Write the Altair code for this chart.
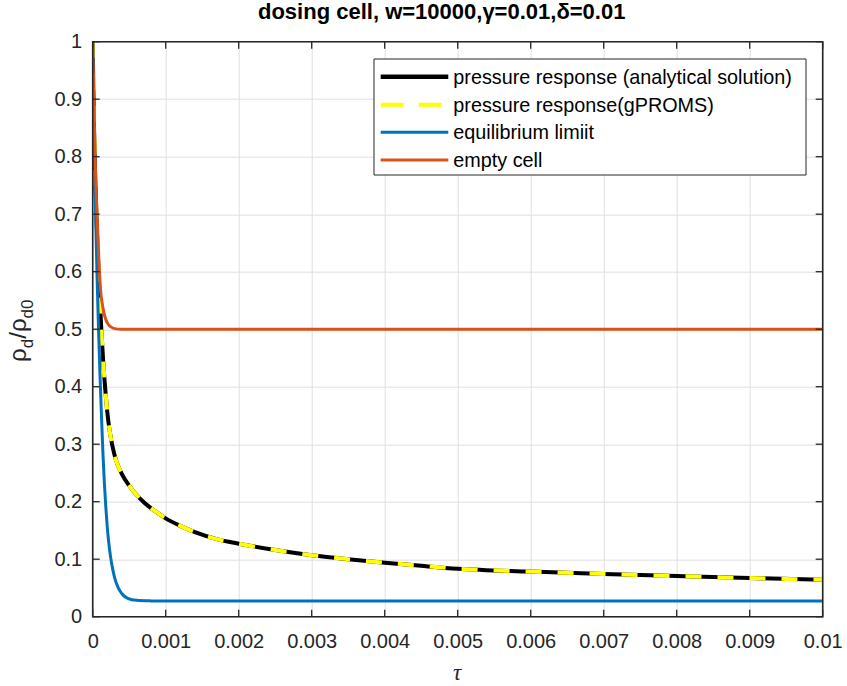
import altair as alt
import pandas as pd

# ---------------- data ----------------
tau_analytic = [0, 0.00001, 0.00002, 0.00003, 0.00004, 0.00006, 0.00008, 0.0001,
                0.00012, 0.00014, 0.00016, 0.00018, 0.0002, 0.00023, 0.00027,
                0.00032, 0.0004, 0.0005, 0.0006, 0.0007, 0.00085, 0.001, 0.0012,
                0.0014, 0.0017, 0.002, 0.0025, 0.003, 0.0035, 0.004, 0.0045,
                0.005, 0.006, 0.007, 0.008, 0.009, 0.01]
rho_analytic = [1.0, 0.91, 0.84, 0.785, 0.74, 0.665, 0.60, 0.545,
                0.495, 0.452, 0.415, 0.383, 0.356, 0.325, 0.297,
                0.272, 0.248, 0.228, 0.212, 0.199, 0.184, 0.171, 0.158,
                0.147, 0.135, 0.127, 0.116, 0.107, 0.100, 0.094, 0.0885,
                0.0835, 0.0785, 0.0743, 0.0706, 0.0672, 0.0641]

tau_gproms = [0, 0.00001, 0.00002, 0.00003, 0.00004, 0.00006, 0.00008, 0.0001,
              0.00012, 0.00014, 0.00016, 0.00018, 0.0002, 0.00023, 0.00027,
              0.00032, 0.0004, 0.0005, 0.0006, 0.0007, 0.00085, 0.001, 0.0012,
              0.0014, 0.0017, 0.002, 0.0025, 0.003, 0.0035, 0.004, 0.0045,
              0.005, 0.006, 0.007, 0.008, 0.009, 0.01]
rho_gproms = [1.0, 0.91, 0.84, 0.785, 0.74, 0.665, 0.60, 0.545,
              0.495, 0.452, 0.415, 0.383, 0.356, 0.325, 0.297,
              0.272, 0.248, 0.228, 0.212, 0.199, 0.184, 0.171, 0.158,
              0.147, 0.135, 0.127, 0.116, 0.107, 0.100, 0.094, 0.0885,
              0.0835, 0.0785, 0.0743, 0.0706, 0.0672, 0.0641]

tau_equil = [0, 0.00002, 0.00004, 0.00006, 0.00008, 0.0001, 0.00012, 0.00014,
             0.00016, 0.00018, 0.0002, 0.00023, 0.00026, 0.0003, 0.00035,
             0.0004, 0.00048, 0.0006, 0.0008, 0.001, 0.01]
rho_equil = [1.0, 0.84, 0.70, 0.59, 0.50, 0.42, 0.35, 0.285,
             0.232, 0.19, 0.155, 0.118, 0.092, 0.068, 0.05,
             0.04, 0.032, 0.0285, 0.0275, 0.0272, 0.0272]

tau_empty = [0, 0.00001, 0.00002, 0.00003, 0.00004, 0.00005, 0.00007, 0.00009,
             0.00011, 0.00013, 0.00016, 0.0002, 0.00025, 0.0003, 0.0004, 0.01]
rho_empty = [1.0, 0.93, 0.87, 0.815, 0.77, 0.73, 0.665, 0.605,
             0.565, 0.545, 0.525, 0.511, 0.504, 0.501, 0.5, 0.5]

series_names = ["pressure response (analytical solution)",
                "pressure response(gPROMS)",
                "equilibrium limiit",
                "empty cell"]

x_ticks = [0, 0.001, 0.002, 0.003, 0.004, 0.005, 0.006, 0.007, 0.008, 0.009, 0.01]
y_ticks = [0, 0.1, 0.2, 0.3, 0.4, 0.5, 0.6, 0.7, 0.8, 0.9, 1]

title_text = "dosing cell, w=10000,γ=0.01,δ=0.01"

# ---------------- styling ----------------
W, H = 730, 575
AX = "#262626"
FONT = "Liberation Sans"
GRID = "#dfdfdf"

xscale = alt.Scale(domain=[0, 0.01], nice=False, zero=False)
yscale = alt.Scale(domain=[0, 1], nice=False, zero=False)

xaxis = alt.Axis(values=x_ticks, format="~g", title=None, grid=True,
                 gridColor=GRID, gridWidth=1, domain=False, ticks=False,
                 tickSize=0, labelFontSize=20, labelFont=FONT, labelColor=AX,
                 labelPadding=15, labelFlush=False, labelOverlap=False,
                 labelBound=False)
yaxis = alt.Axis(values=y_ticks, format="~g", title=None, grid=True,
                 gridColor=GRID, gridWidth=1, domain=False, ticks=False,
                 tickSize=0, labelFontSize=20, labelFont=FONT, labelColor=AX,
                 labelPadding=11, labelFlush=False, labelOverlap=False,
                 labelBound=False)


def curve(tau, rho, color, width, dash=None):
    df = pd.DataFrame({"tau": tau, "rho": rho})
    kw = dict(color=color, strokeWidth=width, clip=True, interpolate="monotone")
    if dash is not None:
        kw["strokeDash"] = dash
    return alt.Chart(df).mark_line(**kw).encode(
        x=alt.X("tau:Q", scale=xscale, axis=xaxis),
        y=alt.Y("rho:Q", scale=yscale, axis=yaxis),
    )


def label(s, x, y, size, **kw):
    base = dict(fontSize=size, font=kw.pop("font", FONT))
    base.update(kw)
    return alt.Chart(pd.DataFrame({"s": [s]})).mark_text(**base).encode(
        x=alt.value(x), y=alt.value(y), text="s:N")


one = pd.DataFrame({"k": [0]})

layers = [
    curve(tau_analytic, rho_analytic, "#000000", 4),
    curve(tau_gproms, rho_gproms, "#FFFF00", 4, dash=[16, 16]),
    curve(tau_equil, rho_equil, "#0072BD", 3),
    curve(tau_empty, rho_empty, "#D95319", 3),
]

# inside ticks on all four sides (positions from the scales)
xt = pd.DataFrame({"t": x_ticks})
yt = pd.DataFrame({"v": y_ticks})
layers += [
    alt.Chart(xt).mark_rule(color=AX, strokeWidth=1.3).encode(
        x=alt.X("t:Q", scale=xscale, axis=xaxis), y=alt.value(H), y2=alt.value(H - 7)),
    alt.Chart(xt).mark_rule(color=AX, strokeWidth=1.3).encode(
        x=alt.X("t:Q", scale=xscale, axis=xaxis), y=alt.value(0), y2=alt.value(7)),
    alt.Chart(yt).mark_rule(color=AX, strokeWidth=1.3).encode(
        y=alt.Y("v:Q", scale=yscale, axis=yaxis), x=alt.value(0), x2=alt.value(7)),
    alt.Chart(yt).mark_rule(color=AX, strokeWidth=1.3).encode(
        y=alt.Y("v:Q", scale=yscale, axis=yaxis), x=alt.value(W), x2=alt.value(W - 7)),
]

# frame
layers.append(alt.Chart(one).mark_rect(filled=False, stroke=AX, strokeWidth=1.6).encode(
    x=alt.value(0), x2=alt.value(W), y=alt.value(0), y2=alt.value(H)))

# legend
layers.append(alt.Chart(one).mark_rect(fill="white", stroke=AX, strokeWidth=1).encode(
    x=alt.value(281.3), x2=alt.value(713.3), y=alt.value(17.3), y2=alt.value(133.3)))
row_y = [35.0, 63.0, 90.6, 118.3]
leg_styles = [("#000000", 4.5, None), ("#FFFF00", 4, [23, 15]),
              ("#0072BD", 3, None), ("#D95319", 3, None)]
for i, (name, (c, w, d)) in enumerate(zip(series_names, leg_styles)):
    kw = dict(color=c, strokeWidth=w)
    if d is not None:
        kw["strokeDash"] = d
    layers.append(alt.Chart(one).mark_rule(**kw).encode(
        x=alt.value(288), x2=alt.value(355.6), y=alt.value(row_y[i])))
    layers.append(label(name, 360.6, row_y[i] + 1, 19.8, align="left",
                        baseline="middle", color="#000000"))

# title
layers.append(label(title_text, 349, -23, 22, fontWeight="bold", align="center",
                    baseline="alphabetic", color="#000000"))

# x-axis title
layers.append(label("τ", 364.3, 638, 23, font="Liberation Serif", fontStyle="italic",
                    align="center", baseline="alphabetic", color=AX))

# y-axis title  rho_d / rho_d0  (rotated, built from pieces)
ymain_x, ysub_x = -67, -60
layers += [
    label("ρ", ymain_x, 320.3, 24, angle=270, align="left", baseline="alphabetic", color=AX),
    label("d", ysub_x, 306.6, 17, angle=270, align="left", baseline="alphabetic", color=AX),
    label("/", ymain_x, 297.1, 24, angle=270, align="left", baseline="alphabetic", color=AX),
    label("ρ", ymain_x, 290.4, 24, angle=270, align="left", baseline="alphabetic", color=AX),
    label("d0", ysub_x, 276.7, 17, angle=270, align="left", baseline="alphabetic", color=AX),
]

chart = alt.layer(*layers).properties(
    width=W, height=H,
    padding={"left": 92.7, "top": 41.7, "right": 24.3, "bottom": 69.3},
    autosize=alt.AutoSizeParams(type="none"),
    background="white",
).configure_view(stroke=None)

chart.save("out.html", embed_options={"renderer": "svg", "actions": False})
